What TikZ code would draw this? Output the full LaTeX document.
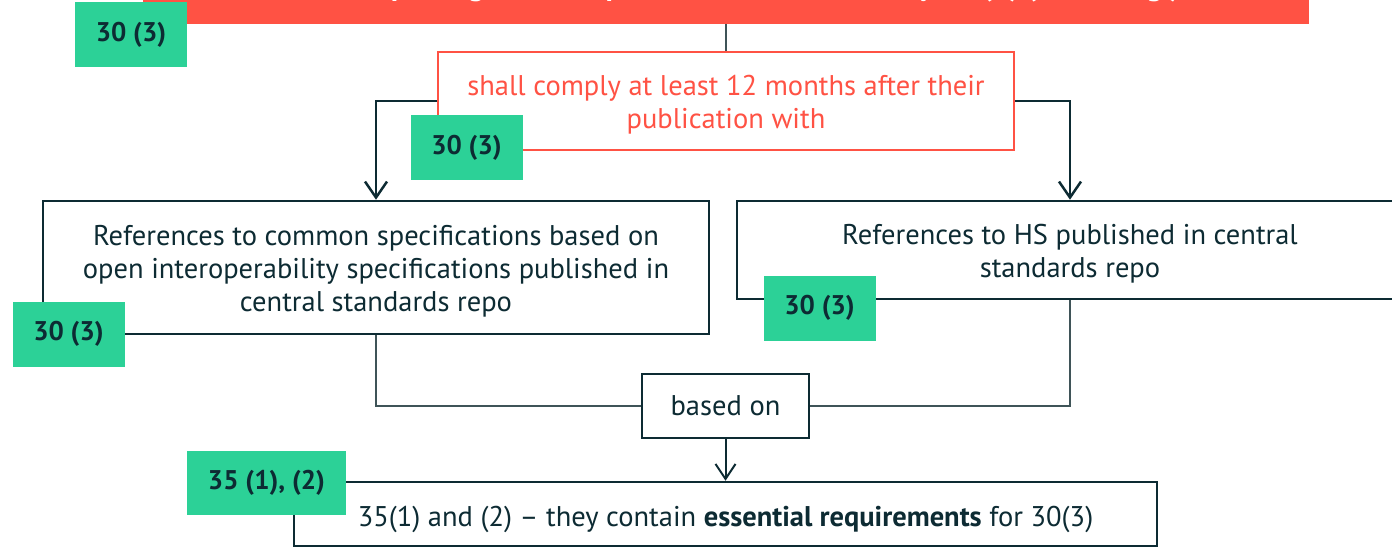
\documentclass[tikz,border=0pt]{standalone}
\usepackage{fontspec}
\setmainfont{PT Sans}
\usetikzlibrary{arrows.meta}
\definecolor{ink}{HTML}{0D2B33}
\definecolor{alert}{HTML}{FF5244}
\definecolor{tag}{HTML}{2CD197}
\definecolor{wire}{HTML}{3F5458}
% invisible strut that pushes a text block a little lower in its box
\newcommand\padtop[1]{\rule{0pt}{#1}}
\tikzset{
  box/.style={draw=ink, line width=2.5pt, fill=white, align=center,
    font=\fontsize{28.5}{33}\selectfont, text=ink, inner sep=0pt},
  redbox/.style={draw=alert, line width=2pt, fill=white, align=center,
    font=\fontsize{28.5}{33}\selectfont, text=alert, inner sep=0pt},
  tagbox/.style={fill=tag, text=ink, font=\fontsize{27}{33}\selectfont\bfseries,
    inner sep=0pt, minimum width=112pt, minimum height=65pt},
  mainflow/.style={draw=ink, line width=2.5pt,
    -{Straight Barb[length=16pt,width=22pt,line width=2.5pt]}},
  feed/.style={draw=wire, line width=1.2pt},
  tip/.style={draw=ink, line width=2pt,
    -{Straight Barb[length=15pt,width=20pt,line width=2pt]}}
}
\begin{document}
\begin{tikzpicture}[x=1pt,y=-1pt]
\useasboundingbox (0,0) rectangle (1392,548);
\clip (0,0) rectangle (1392,548);

% title banner
\node[fill=alert, minimum width=1166pt, minimum height=60pt, inner sep=0pt,
  anchor=south] (banner) at (726,24) {};
\node[text=white, font=\fontsize{30}{36}\selectfont\bfseries, anchor=base east,
  inner sep=0pt] (bannertext) at (1180,-4)
  {Manufacturers placing EHR components on the market by 30 (3) (EHDS Reg.)};

% boxes
\node[redbox, minimum width=576pt, minimum height=98pt] (comply) at (726,101)
  {\padtop{27pt}shall comply at least 12 months after their\\publication with};
\node[box, minimum width=666pt, minimum height=133pt] (common) at (376,267.5)
  {\padtop{27pt}References to common specifications based on\\open interoperability specifications published in\\central standards repo};
\node[box, minimum width=666pt, minimum height=98pt] (hs) at (1070,250)
  {\padtop{27pt}References to HS published in central\\standards repo};
\node[box, minimum width=167pt, minimum height=64pt] (based) at (725.5,406)
  {based on};
\node[box, minimum width=863pt, minimum height=64pt] (essential) at (725.5,514)
  {\padtop{32pt}35(1) and (2) -- they contain \textbf{essential requirements} for 30(3)};

% connectors
\draw[feed] (banner.south) -- (comply.north);
\draw[mainflow] (comply.west) -| (common.north);
\draw[mainflow] (comply.east) -| (hs.north);
\draw[feed] (common.south) |- (based.west);
\draw[feed] (hs.south) |- (based.east);
\draw[tip] (based.south) -- (essential.north);

% article tags
\node[tagbox] (tagtop) at (131,34.5) {30 (3)};
\node[tagbox] (tagcomply) at (466.5,147.5) {30 (3)};
\node[tagbox] (tagcommon) at (68.5,334) {30 (3)};
\node[tagbox] (taghs) at (819.5,308) {30 (3)};
\node[tagbox, minimum width=159pt, minimum height=64pt] (tagess) at (266.5,483) {35 (1), (2)};
\end{tikzpicture}
\end{document}
